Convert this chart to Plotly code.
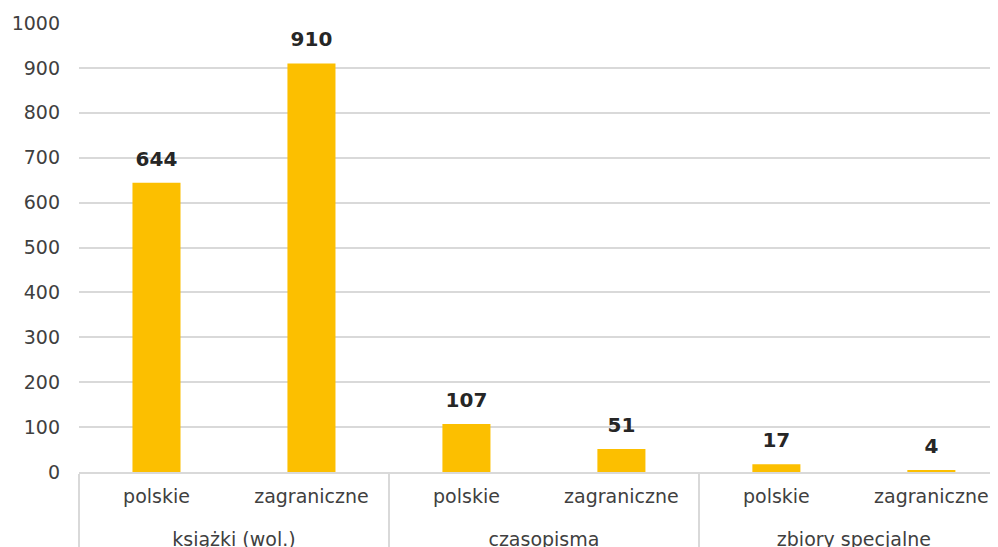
import plotly.graph_objects as go

# grupy i kategorie
groups = ["książki (wol.)", "książki (wol.)", "czasopisma", "czasopisma",
          "zbiory specjalne", "zbiory specjalne"]
origins = ["polskie", "zagraniczne", "polskie", "zagraniczne", "polskie", "zagraniczne"]
values = [644, 910, 107, 51, 17, 4]
y_ticks = [0, 100, 200, 300, 400, 500, 600, 700, 800, 900, 1000]

BAR = "#FCBF00"
GRID = "#D9D9D9"
TXT = "#404040"
FONT = "DejaVu Sans"

# pusta linia przed nazwą grupy odsuwa drugi poziom etykiet niżej
group_labels = ["<br>" + g for g in groups]

fig = go.Figure()
fig.add_trace(go.Bar(
    x=[group_labels, origins],
    y=values,
    marker=dict(color=BAR, line=dict(width=0)),
    hoverinfo="skip",
))
# etykiety wartości nad słupkami
fig.add_trace(go.Scatter(
    x=[group_labels, origins],
    y=values,
    mode="markers+text",
    text=[str(v) for v in values],
    textposition="top center",
    textfont=dict(family=FONT, size=20, color="#262626", weight="bold"),
    marker=dict(size=18, opacity=0),
    cliponaxis=False,
    hoverinfo="skip",
))

# strona ma 8 px marginesu body, więc figura jest o tyle mniejsza
fig.update_layout(
    width=990,
    height=539,
    margin=dict(l=71, r=0, t=15, b=75),
    plot_bgcolor="white",
    paper_bgcolor="white",
    showlegend=False,
    bargap=0.69,
    font=dict(family=FONT, size=19, color=TXT),
)
fig.update_xaxes(
    type="multicategory",
    range=[-0.5, 5.43],
    showline=True,
    linecolor=GRID,
    linewidth=2,
    showgrid=False,
    showdividers=True,
    dividercolor=GRID,
    dividerwidth=2,
    ticklabelstandoff=6,
    tickfont=dict(family=FONT, size=19, color=TXT),
    automargin=False,
)
fig.update_yaxes(
    range=[0, 1000],
    tickvals=y_ticks,
    showgrid=True,
    gridcolor=GRID,
    gridwidth=2,
    zeroline=False,
    showline=False,
    ticklabelstandoff=18,
    tickfont=dict(family=FONT, size=19, color=TXT),
    automargin=False,
)

fig.write_html("out.html")
